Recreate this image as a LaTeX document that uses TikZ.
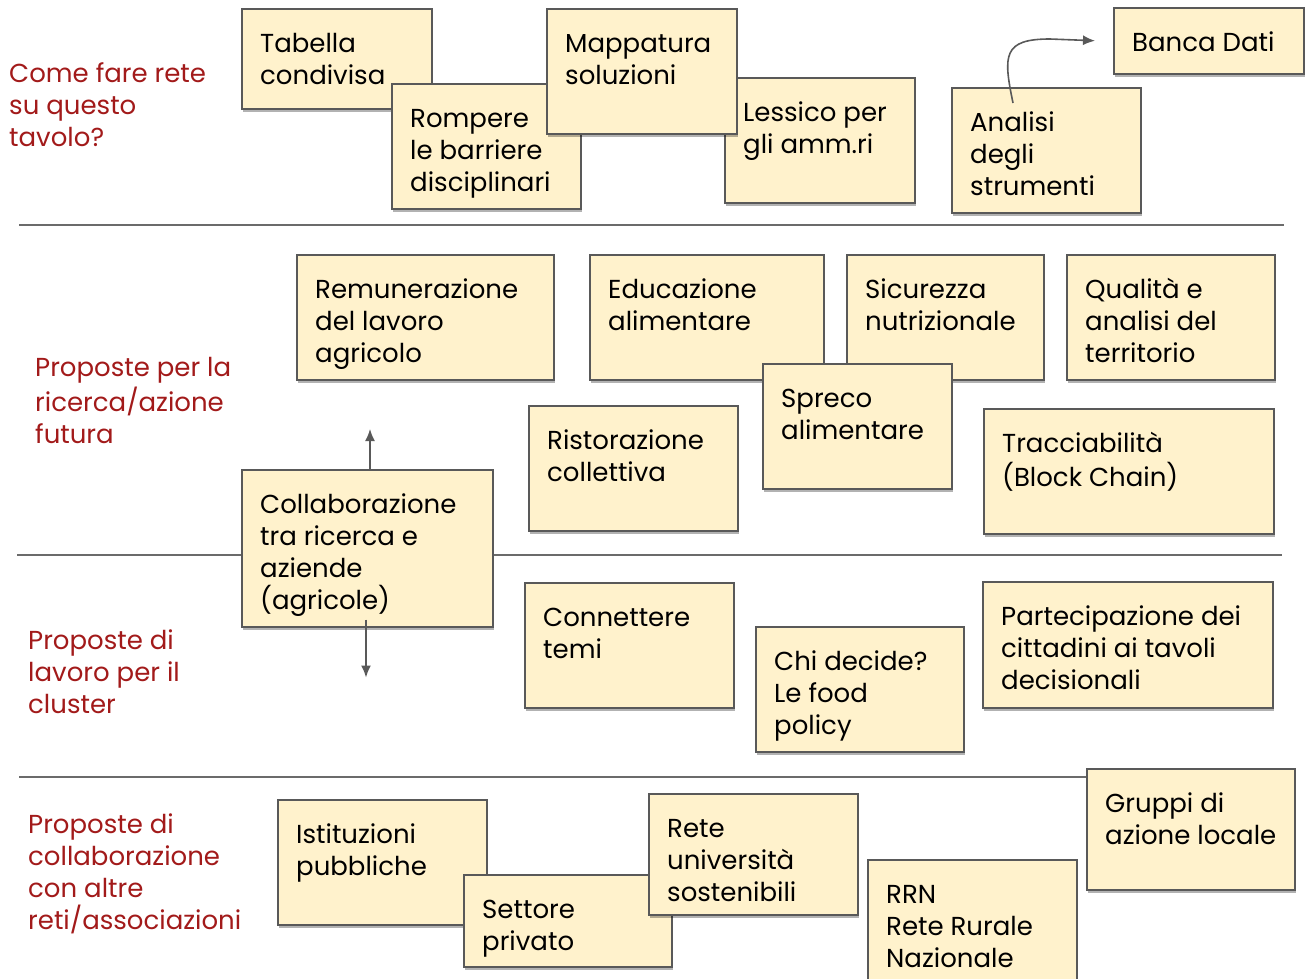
\documentclass[tikz,border=0pt]{standalone}
\usepackage{fontspec}
\setmainfont{Poppins}
\usepackage{xcolor}
\usepackage{tikz}
\usetikzlibrary{calc,shadows,arrows.meta}
\definecolor{noteyellow}{HTML}{FFF2CC}
\definecolor{noteborder}{HTML}{595959}
\definecolor{rowred}{HTML}{A21A1A}
\definecolor{rulegray}{HTML}{6B6B6B}
\newcommand{\notefont}{\fontsize{26}{32}\selectfont}
% sticky note: name, x, y, width, height, text
\newcommand{\postit}[6]{%
  \node[postit, minimum width=#4pt, minimum height=#5pt] (#1) at (#2,#3) {};
  \node[notetext] (#1-t) at ($(#1.north west)+(19,21.4)$) {\strut #6};
}

\begin{document}
\begin{tikzpicture}[x=1pt,y=-1pt,
    postit/.style={draw=noteborder,fill=noteyellow,line width=1.5pt,anchor=north west,inner sep=0pt,
      drop shadow={shadow xshift=1.5pt,shadow yshift=-3pt,opacity=0.3,fill=black}},
    notetext/.style={anchor=north west,align=left,inner sep=0pt,font=\notefont,text=black},
    rowlabel/.style={anchor=north west,align=left,inner sep=0pt,font=\notefont,text=rowred},
    link/.style={draw=noteborder,line width=1.6pt,-{Latex[length=12pt,width=10pt]}}]
    \useasboundingbox (0,0) rectangle (1305,978);

    % separators between the rows
    \coordinate (sep1w) at (19,225);
    \coordinate (sep1e) at (1284,225);
    \coordinate (sep2w) at (17,555);
    \coordinate (sep2e) at (1282,555);
    \coordinate (sep3w) at (19,777);
    \coordinate (sep3e) at (1284,777);
    \draw[rulegray,line width=1.5pt] (sep1w)--(sep1e);
    \draw[rulegray,line width=1.5pt] (sep2w)--(sep2e);
    \draw[rulegray,line width=1.5pt] (sep3w)--(sep3e);

    % row titles
    \node[rowlabel] (title1) at (9,59.4) {\strut Come fare rete\\su questo\\tavolo?};
    \node[rowlabel] (title2) at (35,353.4) {\strut Proposte per la\\ricerca/azione\\futura};
    \node[rowlabel] (title3) at (28,626.4) {\strut Proposte di\\lavoro per il\\cluster};
    \node[rowlabel] (title4) at (28,810.4) {\strut Proposte di\\collaborazione\\con altre\\reti/associazioni};

    % first row
    \postit{tabella}{241}{8}{190}{100}{Tabella\\condivisa}
    \postit{rompere}{391}{83}{189}{125}{Rompere\\le barriere\\disciplinari}
    \postit{lessico}{724}{77}{190}{125}{Lessico per\\gli amm.ri}
    \postit{mappatura}{546}{8}{190}{125}{Mappatura\\soluzioni}
    \postit{analisi}{951}{87}{189}{125}{Analisi\\degli\\strumenti}
    \postit{banca}{1113}{7}{190}{66}{Banca Dati}

    % second row
    \postit{remunerazione}{296}{254}{257}{125}{Remunerazione\\del lavoro\\agricolo}
    \postit{educazione}{589}{254}{234}{125}{Educazione\\alimentare}
    \postit{sicurezza}{846}{254}{197}{125}{Sicurezza\\nutrizionale}
    \postit{qualita}{1066}{254}{208}{125}{Qualità e\\analisi del\\territorio}
    \postit{spreco}{762}{363}{189}{125}{Spreco\\alimentare}
    \postit{ristorazione}{528}{405}{209}{125}{Ristorazione\\collettiva}
    \postit{tracciabilita}{983}{408}{290}{125}{Tracciabilità\\(Block Chain)}
    \postit{collab}{241}{469}{251}{157}{Collaborazione\\tra ricerca e\\aziende\\(agricole)}

    % third row
    \postit{connettere}{524}{582}{209}{125}{Connettere\\temi}
    \postit{chidecide}{755}{626}{208}{125}{Chi decide?\\Le food\\policy}
    \postit{partecipazione}{982}{581}{290}{126}{Partecipazione dei\\cittadini ai tavoli\\decisionali}

    % fourth row
    \postit{istituzioni}{277}{799}{209}{125}{Istituzioni\\pubbliche}
    \postit{settore}{463}{874}{208}{92}{Settore\\privato}
    \postit{rete}{648}{793}{209}{121}{Rete\\università\\sostenibili}
    \postit{rrn}{867}{859}{209}{125}{RRN\\Rete Rurale\\Nazionale}
    \postit{gruppi}{1086}{768}{208}{121}{Gruppi di\\azione locale}

    % arrows
    \coordinate (analisiout) at ($(analisi.north west)+(62,16)$);
    \coordinate (bancain) at ($(banca.west)+(-18,0)$);
    \draw[link] (analisiout) .. controls (1003,55) and (1003,39) .. (1050,39) -- (bancain);
    \coordinate (collabtop) at ($(collab.north west)+(129,0)$);
    \coordinate (upend) at ($(collabtop)+(0,-40)$);
    \draw[link] (collabtop) -- (upend);
    \coordinate (collabbot) at ($(collab.south west)+(125,-8)$);
    \coordinate (downend) at ($(collabbot)+(0,58)$);
    \draw[link] (collabbot) -- (downend);
\end{tikzpicture}
\end{document}
